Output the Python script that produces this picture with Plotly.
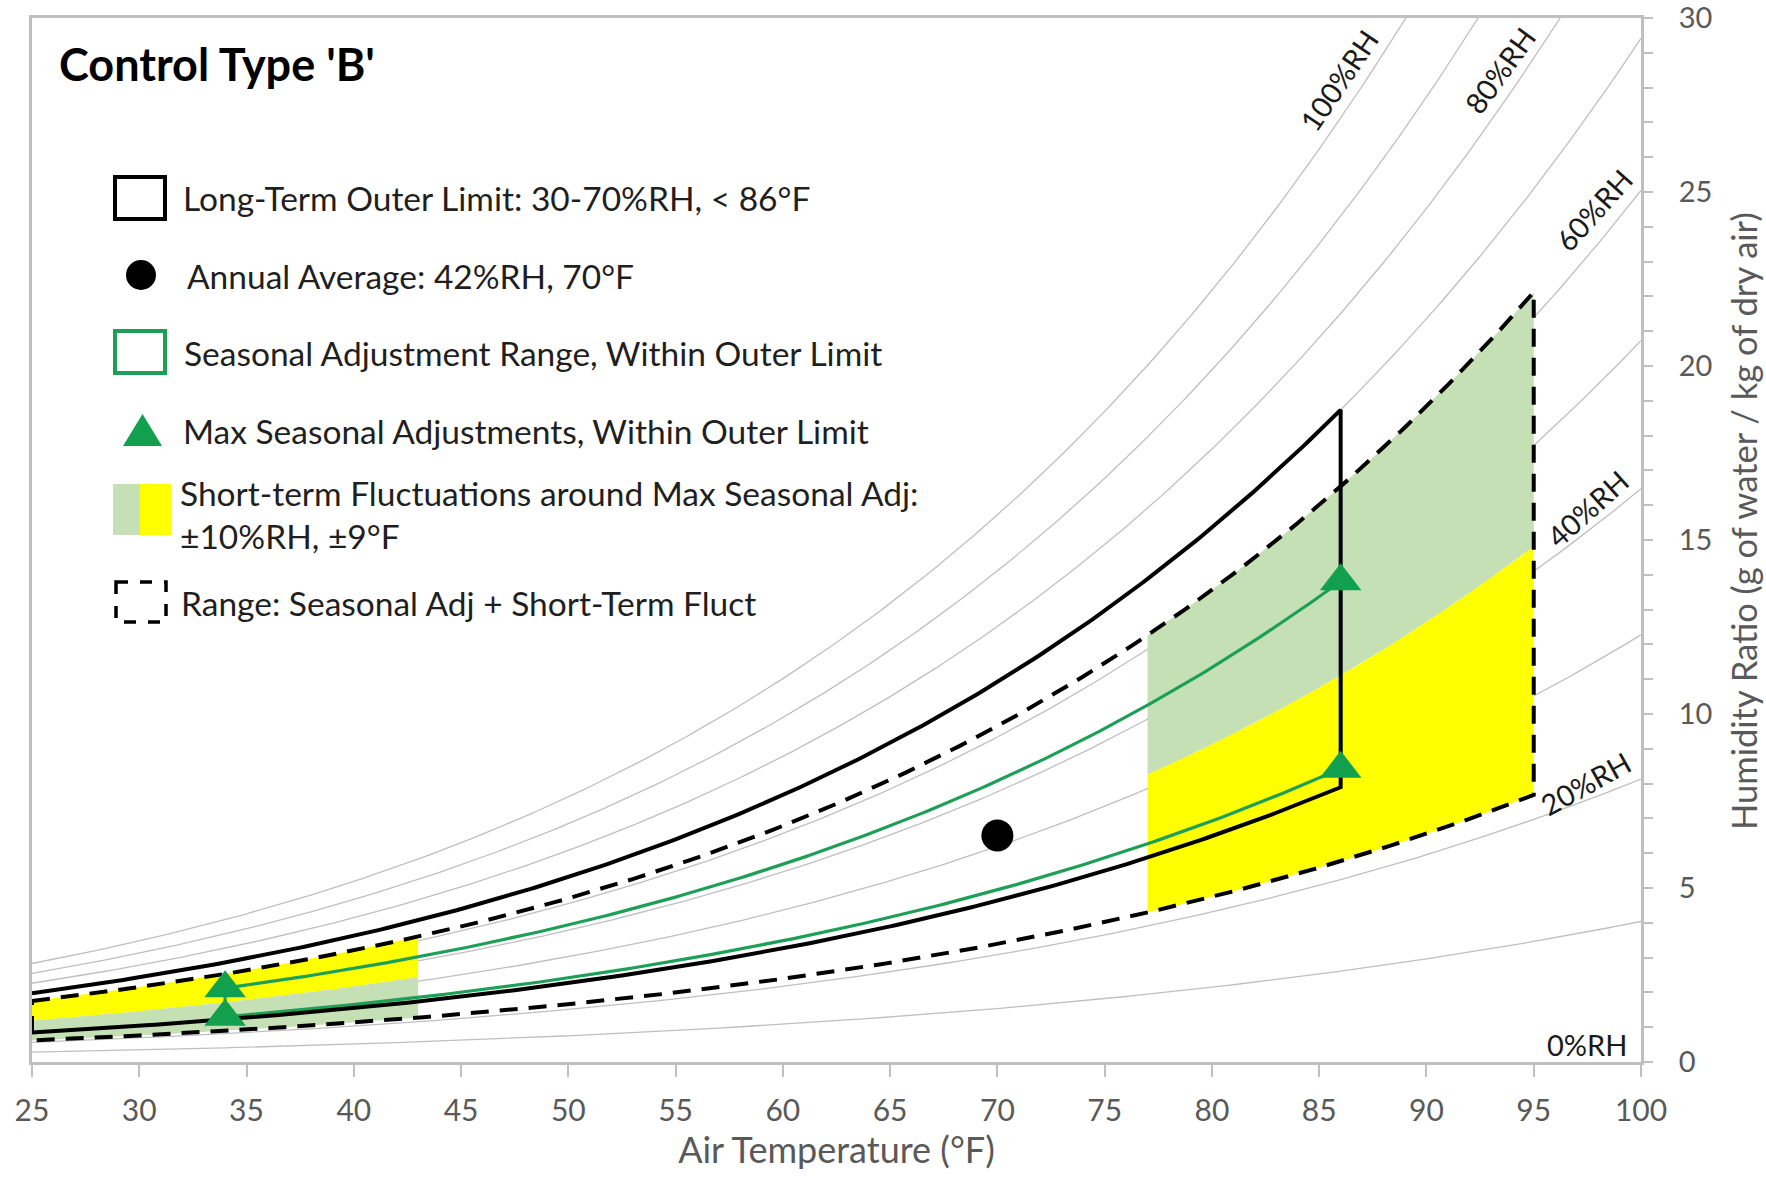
import numpy as np
import plotly.graph_objects as go

# ---- chart values -------------------------------------------------------
rh_grid = [10, 20, 30, 40, 50, 60, 70, 80, 90, 100]     # %RH reference curves
rh_labels = ["0%RH", "20%RH", "40%RH", "60%RH", "80%RH", "100%RH"]
temp_min, temp_max = 25, 100                              # °F axis span
hum_ticks = [0, 5, 10, 15, 20, 25, 30]                    # g/kg

outer_rh = [30, 70]          # long-term outer limit, %RH
outer_tmax = 86              # long-term outer limit, °F
annual_t, annual_rh = 70, 42 # annual average
seasonal_t = [34, 86]        # max seasonal adjustments, °F
seasonal_rh = [32, 52]       # max seasonal adjustments, %RH
fluct_rh = 10                # short-term fluctuation, ±%RH
fluct_t = 9                  # short-term fluctuation, ±°F

# ---- psychrometrics -----------------------------------------------------
P_ATM = 101.325  # kPa


def psat(tf):
    tc = (np.asarray(tf, dtype=float) - 32.0) * 5.0 / 9.0
    return 0.6112 * np.exp(17.62 * tc / (243.12 + tc))


def hum_ratio(tf, rh):
    pw = rh / 100.0 * psat(tf)
    return 621.98 * pw / (P_ATM - pw)


def temps(a, b, step=0.25):
    n = int(round(abs(b - a) / step)) + 1
    return np.linspace(a, b, n)


def rh_curve(rh, t0, t1):
    t = temps(t0, t1)
    return t, hum_ratio(t, rh)


def band(rh_lo, rh_hi, t0, t1):
    """Closed outline of the region between two RH curves over [t0, t1]."""
    ta, wa = rh_curve(rh_hi, t0, t1)
    tb, wb = rh_curve(rh_lo, t1, t0)
    return np.concatenate([ta, tb, ta[:1]]), np.concatenate([wa, wb, wa[:1]])


GRID = "#bfbfbf"
AXIS_TXT = "#595959"
LEG_TXT = "#1f1f1f"
GREEN_LINE = "#1d9f57"
GREEN_MARK = "#12a04e"
GREEN_FILL = "#c5e0b4"
YELLOW = "#ffff00"
FONT = "Lato"

fig = go.Figure()

# RH reference curves
for rh in rh_grid:
    t, w = rh_curve(rh, temp_min, temp_max)
    keep = w <= 31
    fig.add_trace(go.Scatter(x=t[keep], y=w[keep], mode="lines",
                             line=dict(color=GRID, width=1.3),
                             hoverinfo="skip", showlegend=False))

# short-term fluctuation bands around the seasonal extremes
t_lo, t_hi = seasonal_t
rh_lo, rh_hi = seasonal_rh
bands = [
    (rh_hi - fluct_rh, rh_hi + fluct_rh, t_hi - fluct_t, t_hi + fluct_t, GREEN_FILL),
    (rh_lo - fluct_rh, rh_lo + fluct_rh, t_hi - fluct_t, t_hi + fluct_t, YELLOW),
    (rh_hi - fluct_rh, rh_hi + fluct_rh, max(temp_min, t_lo - fluct_t), t_lo + fluct_t, YELLOW),
    (rh_lo - fluct_rh, rh_lo + fluct_rh, max(temp_min, t_lo - fluct_t), t_lo + fluct_t, GREEN_FILL),
]
for a, b, t0, t1, col in bands:
    x, y = band(a, b, t0, t1)
    fig.add_trace(go.Scatter(x=x, y=y, mode="lines", fill="toself",
                             fillcolor=col, line=dict(width=0),
                             hoverinfo="skip", showlegend=False))

# seasonal adjustment range
sx, sy = band(rh_lo, rh_hi, t_lo, t_hi)
fig.add_trace(go.Scatter(x=sx, y=sy, mode="lines",
                         line=dict(color=GREEN_LINE, width=3.2),
                         hoverinfo="skip", showlegend=False))

# overall range: seasonal + short-term
rx, ry = band(rh_lo - fluct_rh, rh_hi + fluct_rh,
              max(temp_min, t_lo - fluct_t), t_hi + fluct_t)
fig.add_trace(go.Scatter(x=rx, y=ry, mode="lines",
                         line=dict(color="black", width=4, dash="18px,11px"),
                         hoverinfo="skip", showlegend=False))

# long-term outer limit (open at the left axis)
ta, wa = rh_curve(outer_rh[1], temp_min, outer_tmax)
tb, wb = rh_curve(outer_rh[0], outer_tmax, temp_min)
fig.add_trace(go.Scatter(x=np.concatenate([ta, tb]), y=np.concatenate([wa, wb]),
                         mode="lines", line=dict(color="black", width=4),
                         hoverinfo="skip", showlegend=False))

# max seasonal adjustment points
mt = [t_lo, t_lo, t_hi, t_hi]
mr = [rh_hi, rh_lo, rh_hi, rh_lo]
fig.add_trace(go.Scatter(x=mt, y=[float(hum_ratio(t, r)) for t, r in zip(mt, mr)],
                         mode="markers",
                         marker=dict(symbol="triangle-up", size=36, color=GREEN_MARK),
                         hoverinfo="skip", showlegend=False))

# annual average
fig.add_trace(go.Scatter(x=[annual_t], y=[float(hum_ratio(annual_t, annual_rh))],
                         mode="markers", marker=dict(symbol="circle", size=32, color="black"),
                         hoverinfo="skip", showlegend=False))

# ---- RH curve labels ----------------------------------------------------
rh_label_pos = {
    "100%RH": (85.9, 28.2, -56),
    "80%RH": (93.4, 28.5, -54),
    "60%RH": (97.8, 24.5, -48),
    "40%RH": (97.5, 15.9, -42),
    "20%RH": (97.4, 8.0, -29),
    "0%RH": (97.5, 0.5, 0),
}
annotations = []
for lab in rh_labels:
    x, y, ang = rh_label_pos[lab]
    annotations.append(dict(x=x, y=y, xref="x", yref="y", text=lab, showarrow=False,
                            textangle=ang, font=dict(family=FONT, size=29, color="#1a1a1a"),
                            xanchor="center", yanchor="middle"))

# ---- title and legend (drawn in pixel space of the plot area) -----------
W_FIG, H_FIG = 1766, 1180
M_L, M_R, M_T, M_B = 32, 125, 18, 118
PW = W_FIG - M_L - M_R
PH = H_FIG - M_T - M_B


def px(x):
    return (x - M_L) / PW


def py(y):
    return (H_FIG - M_B - y) / PH


annotations.append(dict(x=px(57), y=py(64), xref="paper", yref="paper",
                        text="<b>Control Type 'B'</b>", showarrow=False,
                        xanchor="left", yanchor="middle",
                        font=dict(family=FONT, size=45, color="black")))

# vertical axis title placed alongside the right-hand tick labels
annotations.append(dict(x=px(1743), y=py(521), xref="paper", yref="paper",
                        text="Humidity Ratio (g of water / kg of dry air)",
                        showarrow=False, textangle=-90,
                        xanchor="center", yanchor="middle",
                        font=dict(family=FONT, size=34.5, color=AXIS_TXT)))

legend_rows = [
    (181, 198, "Long-Term Outer Limit: 30-70%RH, < 86°F"),
    (185, 276, "Annual Average: 42%RH, 70°F"),
    (182, 353, "Seasonal Adjustment Range, Within Outer Limit"),
    (181, 431, "Max Seasonal Adjustments, Within Outer Limit"),
    (178, 493, "Short-term Fluctuations around Max Seasonal Adj:"),
    (178, 536, "±10%RH, ±9°F"),
    (179, 603, "Range: Seasonal Adj + Short-Term Fluct"),
]
for x, y, txt in legend_rows:
    annotations.append(dict(x=px(x), y=py(y), xref="paper", yref="paper", text=txt,
                            showarrow=False, xanchor="left", yanchor="middle",
                            font=dict(family=FONT, size=33.5, color=LEG_TXT)))

shapes = [
    dict(type="rect", xref="paper", yref="paper", x0=px(115), x1=px(165), y0=py(177), y1=py(219),
         line=dict(color="black", width=4), fillcolor="rgba(0,0,0,0)"),
    dict(type="circle", xref="paper", yref="paper", x0=px(126), x1=px(156), y0=py(260), y1=py(290),
         line=dict(color="black", width=0), fillcolor="black"),
    dict(type="rect", xref="paper", yref="paper", x0=px(115), x1=px(165), y0=py(331), y1=py(373),
         line=dict(color=GREEN_LINE, width=4), fillcolor="rgba(0,0,0,0)"),
    dict(type="path", xref="paper", yref="paper",
         path=f"M {px(123)},{py(446)} L {px(162)},{py(446)} L {px(142.5)},{py(414)} Z",
         line=dict(width=0), fillcolor=GREEN_MARK),
    dict(type="rect", xref="paper", yref="paper", x0=px(113), x1=px(140), y0=py(484), y1=py(535),
         line=dict(width=0), fillcolor=GREEN_FILL),
    dict(type="rect", xref="paper", yref="paper", x0=px(140), x1=px(171), y0=py(484), y1=py(535),
         line=dict(width=0), fillcolor=YELLOW),
    dict(type="rect", xref="paper", yref="paper", x0=px(116), x1=px(166), y0=py(582), y1=py(622),
         line=dict(color="black", width=3.5, dash="12px,12px"), fillcolor="rgba(0,0,0,0)"),
]

fig.update_layout(
    width=W_FIG, height=H_FIG,
    margin=dict(l=M_L, r=M_R, t=M_T, b=M_B, autoexpand=False),
    paper_bgcolor="white", plot_bgcolor="white",
    showlegend=False,
    annotations=annotations,
    shapes=shapes,
    font=dict(family=FONT, color=AXIS_TXT),
)

fig.update_xaxes(
    range=[temp_min, temp_max], tickmode="array",
    tickvals=list(range(temp_min, temp_max + 1, 5)),
    automargin=False,
    showgrid=False, zeroline=False,
    showline=True, linecolor=GRID, linewidth=3, mirror=True,
    ticks="outside", ticklen=12, tickwidth=1.5, tickcolor=GRID,
    ticklabelstandoff=8,
    tickfont=dict(family=FONT, size=30, color=AXIS_TXT),
    title=dict(text="Air Temperature (°F)", standoff=10,
               font=dict(family=FONT, size=36, color=AXIS_TXT)),
)

fig.update_yaxes(
    range=[0, 30], side="right", tickmode="array", tickvals=hum_ticks,
    automargin=False,
    showgrid=False, zeroline=False,
    showline=True, linecolor=GRID, linewidth=3, mirror=True,
    ticks="outside", ticklen=9, tickwidth=1.5, tickcolor=GRID,
    minor=dict(dtick=1, ticks="outside", ticklen=9, tickwidth=1.5, tickcolor=GRID, showgrid=False),
    ticklabelstandoff=20, ticklabeloverflow="allow",
    tickfont=dict(family=FONT, size=29, color=AXIS_TXT),
)

fig.write_html("out.html")
